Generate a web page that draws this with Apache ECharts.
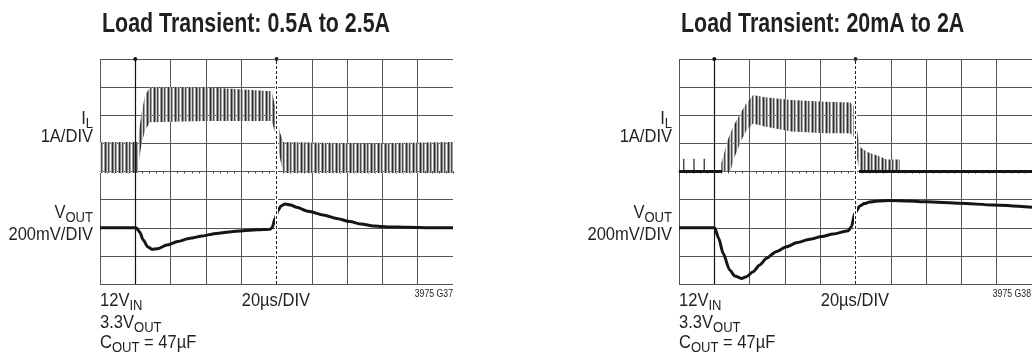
<!DOCTYPE html>
<html>
<head>
<meta charset="utf-8">
<script src="https://cdn.jsdelivr.net/npm/echarts@6/dist/echarts.min.js"></script>
<style>
  html, body { margin: 0; padding: 0; background: #fff; }
  #chart { width: 1032px; height: 352px; }
</style>
</head>
<body>
<div id="chart"></div>
<script>
// time in µs (20µs/DIV), I_L in A (1A/DIV), V_OUT deviation in mV (200mV/DIV)
const TRIG_T = 20;
const STEP_T = 100;

// --- left: 0.5A to 2.5A ---
const ilTimeL = [0, 21.5, 22.3, 23.6, 25.5, 28.3, 60, 97.3, 100.1, 101.9, 103.8, 150, 200];
const ilTopL  = [1.05, 1.05, 1.5, 2.1, 2.7, 3.0, 3.0, 2.85, 2.08, 1.4, 1.05, 1.0, 1.05];
const ilBotL  = [-0.05, -0.05, 0.5, 1.0, 1.45, 1.75, 1.8, 1.8, 1.19, 0.5, -0.05, -0.05, -0.05];

const voutTimeL = [0, 20.5, 22.5, 24.5, 27, 29.5, 32.5, 37.8, 44, 51, 58, 66, 73, 81, 89, 96.3, 97.5,
                   99.2, 101, 102.5, 104.8, 108, 111.4, 118, 126.5, 134, 141.6, 148, 155, 163, 174, 187, 200];
const voutL     = [0, 0, -30, -87, -135, -153, -150, -123, -98, -75, -58, -40, -30, -21, -15, -11, 0,
                   67, 125, 155, 169, 162, 145, 118, 91, 66, 44, 26, 12, 6, 3, 0, 0];

// --- right: 20mA to 2A ---
const ilTimeR = [24, 27.6, 29, 31.6, 35.4, 38.2, 42, 48.6, 63.7, 82.6, 97, 99.5, 100.8, 102.4, 106.3, 113.8, 117.6, 125];
const ilTopR  = [0.3, 1.12, 1.35, 1.71, 2.13, 2.42, 2.72, 2.64, 2.54, 2.48, 2.45, 2.3, 1.5, 0.88, 0.7, 0.53, 0.43, 0.43];
const ilBotR  = [0, 0, 0, 0.53, 1.12, 1.47, 1.71, 1.6, 1.42, 1.36, 1.36, 1.2, 0.5, 0, 0, 0, 0, 0];
const ilBaseSegR = [[0, 24.5], [102, 200]];
const ilSpikeTimeR = [2.7, 8.5, 14.3];
const ilSpikeR = [0.45, 0.45, 0.45];

const voutTimeR = [0, 20.2, 22.5, 25, 28.7, 31.6, 35.4, 38.2, 42, 45.7, 49.6, 55, 60.9, 67, 74.1, 81, 87.3, 95.8,
                   97.7, 99.6, 102.5, 105, 108.1, 113, 119.5, 130, 140.3, 159.2, 178, 200];
const voutR     = [0, 0, -75, -182, -300, -343, -360, -348, -313, -265, -217, -170, -135, -105, -82, -62, -44, -21,
                   8, 103, 155, 172, 183, 190, 193, 190, 185, 174, 162, 146];

// condensed look: Liberation Sans squeezed horizontally
const FONT = "'Liberation Sans', Arial, sans-serif";
const SQUEEZE = 0.87;
const INK = '#231f20';
const GRIDC = '#555';

const chart = echarts.init(document.getElementById('chart'), null, { renderer: 'canvas' });

function ripplePattern() {
  const c = document.createElement('canvas');
  c.width = 7; c.height = 4;
  const ctx = c.getContext('2d');
  const cols = ['#2e2e2e', '#8a8a8a', '#d0d0d0', '#4a4a4a', '#a0a0a0', null, '#9a9a9a'];
  cols.forEach(function (col, i) {
    if (col) { ctx.fillStyle = col; ctx.fillRect(i, 0, 1, 4); }
  });
  return { image: c, repeat: 'repeat' };
}
const RIPPLE = ripplePattern();

function txt(x, y, text, size, align, weight, squeeze) {
  return {
    type: 'text', x: x, y: y, silent: true,
    scaleX: squeeze || SQUEEZE, scaleY: 1,
    style: {
      text: text, fill: INK,
      fontSize: size, fontFamily: FONT, fontWeight: weight || 'normal',
      align: align || 'left', textAlign: align || 'left',
      verticalAlign: 'middle', textVerticalAlign: 'middle',
      rich: {
        s: { fontSize: 15, fontFamily: FONT, fill: INK, padding: [9, 0, 0, 0] }
      }
    }
  };
}

function panelText(gx, gr, title, code) {
  return [
    txt(gx + 2, 24, title, 28, 'left', 'bold', 0.765),
    txt(gx - 7, 119, 'I{s|L}', 19, 'right'),
    txt(gx - 7, 137, '1A/DIV', 19, 'right'),
    txt(gx - 7, 213, 'V{s|OUT}', 19, 'right'),
    txt(gx - 7, 235, '200mV/DIV', 19, 'right'),
    txt(gx, 301, '12V{s|IN}', 19),
    txt(gx + 141.7, 301, '20µs/DIV', 19),
    txt(gx, 323, '3.3V{s|OUT}', 19),
    txt(gx, 343, 'C{s|OUT} = 47µF', 19),
    txt(gr, 294, code, 10, 'right')
  ];
}

function xAx(g) {
  return {
    type: 'value', gridIndex: g, min: 0, max: 200, interval: 20,
    axisLine: { show: true, onZero: true, lineStyle: { color: GRIDC, width: 1 } },
    axisTick: { show: true, length: 2, lineStyle: { color: '#444' } },
    minorTick: { show: true, splitNumber: 5, length: 2, lineStyle: { color: '#444' } },
    axisLabel: { show: false },
    splitLine: { show: true, showMinLine: true, showMaxLine: false, lineStyle: { color: GRIDC, width: 1 } }
  };
}
function yIl(g) {
  return {
    type: 'value', gridIndex: g, min: -4, max: 4, interval: 1,
    axisLine: { show: false }, axisTick: { show: false }, axisLabel: { show: false },
    splitLine: { show: true, lineStyle: { color: GRIDC, width: 1 } }
  };
}
function yV(g) {
  return { type: 'value', gridIndex: g, min: -400, max: 1200, interval: 200, show: false, splitLine: { show: false } };
}

function bandSeries(xi, yi, ts, tops, bots) {
  return {
    type: 'custom', xAxisIndex: xi, yAxisIndex: yi, clip: true, z: 3, silent: true,
    data: ts.map(function (t, i) { return [t, tops[i], bots[i]]; }),
    renderItem: function (params, api) {
      if (params.dataIndex !== 0) return null;
      const top = ts.map(function (t, i) { return api.coord([t, tops[i]]); });
      const bot = ts.map(function (t, i) { return api.coord([t, bots[i]]); });
      const poly = top.concat(bot.slice().reverse());
      return { type: 'polygon', shape: { points: poly }, style: { fill: RIPPLE } };
    }
  };
}

function guideSeries(xi, yi) {
  return {
    type: 'line', xAxisIndex: xi, yAxisIndex: yi, data: [], z: 1, silent: true,
    markLine: {
      silent: true, symbol: ['none', 'circle'], symbolSize: 4, label: { show: false }, animation: false,
      data: [
        { xAxis: STEP_T, symbolSize: 0, lineStyle: { color: '#fff', width: 3, type: 'solid' } },
        { xAxis: STEP_T, lineStyle: { color: '#222', width: 1, type: [3, 2] }, itemStyle: { color: '#222' } },
        { xAxis: TRIG_T, lineStyle: { color: '#111', width: 1.2, type: 'solid' }, itemStyle: { color: '#111' } }
      ]
    }
  };
}

function voutSeries(xi, yi, ts, vs) {
  return {
    type: 'line', xAxisIndex: xi, yAxisIndex: yi, z: 4, silent: true,
    data: ts.map(function (t, i) { return [t, vs[i]]; }),
    smooth: 0.25, smoothMonotone: 'x', showSymbol: false, symbol: 'none',
    lineStyle: { color: '#151515', width: 3 }
  };
}

const baseDataR = [];
ilBaseSegR.forEach(function (seg, i) {
  if (i > 0) baseDataR.push([(seg[0] + ilBaseSegR[i - 1][1]) / 2, '-']);
  baseDataR.push([seg[0], 0], [seg[1], 0]);
});

const option = {
  animation: false,
  backgroundColor: '#fff',
  grid: [
    { left: 100, top: 59, width: 353, height: 225 },
    { left: 679, top: 59, width: 353, height: 225 }
  ],
  xAxis: [xAx(0), xAx(1)],
  yAxis: [yIl(0), yV(0), yIl(1), yV(1)],
  series: [
    guideSeries(0, 0),
    bandSeries(0, 0, ilTimeL, ilTopL, ilBotL),
    voutSeries(0, 1, voutTimeL, voutL),

    guideSeries(1, 2),
    {
      type: 'line', xAxisIndex: 1, yAxisIndex: 2, z: 4, silent: true,
      data: baseDataR, showSymbol: false, symbol: 'none', connectNulls: false,
      lineStyle: { color: '#151515', width: 3 }
    },
    {
      type: 'bar', xAxisIndex: 1, yAxisIndex: 2, z: 4, silent: true, barWidth: 1.2,
      data: ilSpikeTimeR.map(function (t, i) { return [t, ilSpikeR[i]]; }),
      itemStyle: { color: '#222' }
    },
    bandSeries(1, 2, ilTimeR, ilTopR, ilBotR),
    voutSeries(1, 3, voutTimeR, voutR)
  ],
  graphic: panelText(100, 453, 'Load Transient: 0.5A to 2.5A', '3975 G37')
    .concat(panelText(679, 1031, 'Load Transient: 20mA to 2A', '3975 G38'))
};

chart.setOption(option);
</script>
</body>
</html>
